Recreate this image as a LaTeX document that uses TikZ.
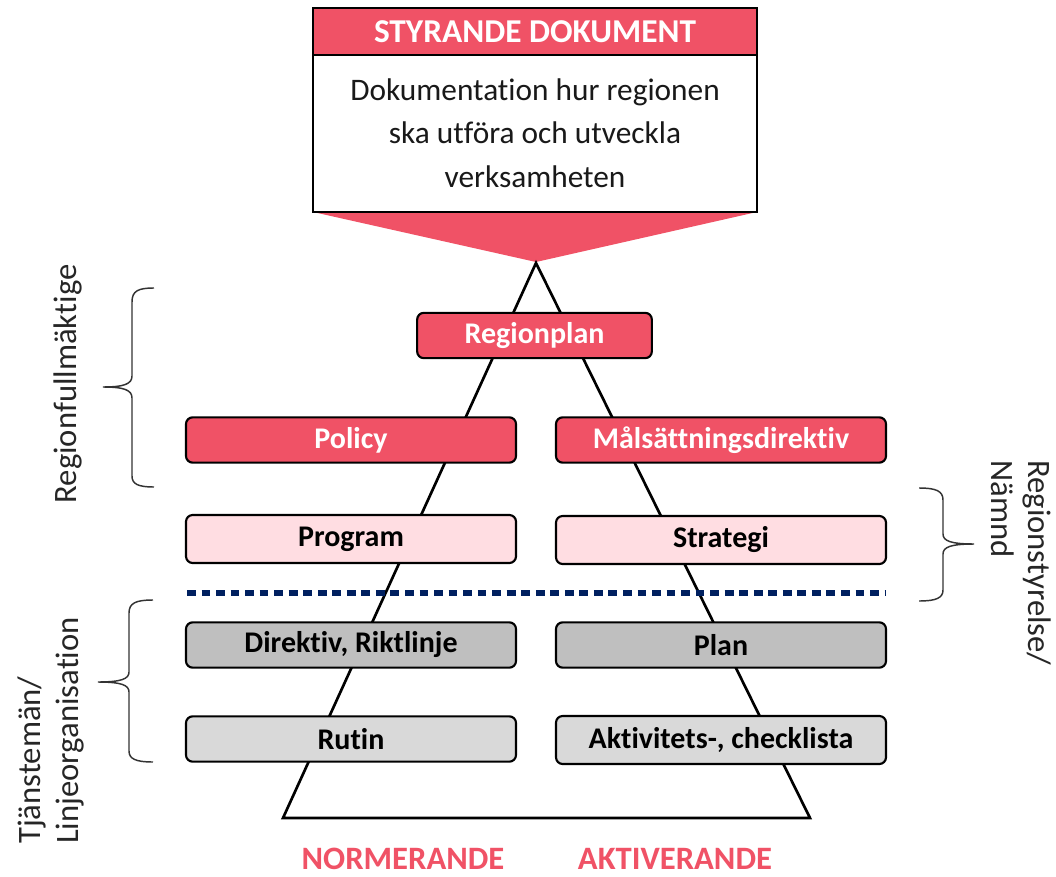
\documentclass[tikz,border=0pt]{standalone}
\usepackage{fontspec}
\setmainfont{Carlito}[Ligatures={NoCommon}]
\definecolor{rd}{RGB}{240,82,102}
\definecolor{pinkbg}{RGB}{255,221,226}
\definecolor{graybg}{RGB}{191,191,191}
\definecolor{lgraybg}{RGB}{217,217,217}
\definecolor{navy}{RGB}{0,32,96}
\begin{document}
\begin{tikzpicture}[x=0.75pt,y=-0.75pt,
  box/.style={draw=black, line width=1.6pt, rounded corners=5pt, minimum width=247.5pt,
    minimum height=34pt, inner sep=0pt, font=\fontsize{22.5}{27}\selectfont\bfseries},
  redbox/.style={box, fill=rd, text=white},
  pinkbox/.style={box, fill=pinkbg, text=black},
  graybox/.style={box, fill=graybg, text=black},
  lgraybox/.style={box, fill=lgraybg, text=black},
  sidelbl/.style={font=\fontsize{24.5}{28}\selectfont, inner sep=0pt, align=left, text=black!85},
  bottomlbl/.style={font=\fontsize{24.5}{28}\selectfont\bfseries, text=rd, inner sep=0pt},
  bracestyle/.style={draw=black!80, line width=1.1pt}
]
\useasboundingbox (0,0) rectangle (1056,877);

% callout
\fill[rd] (313,212) -- (757,212) -- (536,262) -- cycle;
\fill[white] (313,55) rectangle (757,212);
\fill[rd] (313,8) rectangle (757,55);
\draw[line width=1.6pt] (313,8) rectangle (757,212);
\draw[line width=1.2pt] (313,55) -- (757,55);
\node[font=\fontsize{25}{30}\selectfont\bfseries, text=white] (hdr) at (535,32) {STYRANDE DOKUMENT};
\node[font=\fontsize{23.5}{32.5}\selectfont, align=center, text=black!90] (body) at (535,133)
  {Dokumentation hur regionen\\ska utföra och utveckla\\verksamheten};

% pyramid
\coordinate (apex) at (536,263);
\coordinate (bl) at (283,818);
\coordinate (br) at (810,818);
\draw[line width=2pt, line join=miter] (apex) -- (bl) -- (br) -- cycle;

% boxes
\node[redbox, minimum width=176pt] (regionplan) at (534.5,335.5) {Regionplan};
\node[redbox] (policy) at (351,440) {Policy};
\node[redbox] (malsatt) at (721,440) {Målsättningsdirektiv};
\node[pinkbox, minimum height=36pt] (program) at (351,539) {Program};
\node[pinkbox, minimum height=36pt] (strategi) at (721,540) {Strategi};
\node[graybox] (direktiv) at (351,645) {Direktiv, Riktlinje};
\node[graybox] (plan) at (721,645) {Plan};
\node[lgraybox] (rutin) at (351,739) {Rutin};
\node[lgraybox, minimum height=36pt] (aktiv) at (721,740) {Aktivitets-, checklista};

% dotted separator
\coordinate (dl) at (187,593);
\coordinate (dr) at (885,593);
\draw[navy, line width=5pt, dash pattern=on 6.6pt off 4.3pt] (dl) -- (dr);

% braces
\draw[bracestyle] (154,288) .. controls (138,288) and (132,291) .. (132,302) -- (132,376)
  .. controls (132,384) and (124,387) .. (103,387)
  .. controls (124,387) and (132,390) .. (132,398) -- (132,476)
  .. controls (132,484) and (138,487) .. (154,487);
\draw[bracestyle] (153,600) .. controls (136,600) and (129,603) .. (129,613) -- (129,672)
  .. controls (129,679) and (121,682) .. (98,682)
  .. controls (121,682) and (129,685) .. (129,692) -- (129,751)
  .. controls (129,759) and (136,762) .. (153,762);
\draw[bracestyle] (919,488) .. controls (936,488) and (943,491) .. (943,500) -- (943,534)
  .. controls (943,541) and (951,544) .. (974,544)
  .. controls (951,544) and (943,547) .. (943,554) -- (943,590)
  .. controls (943,598) and (936,601) .. (919,601);

% side labels
\node[sidelbl, rotate=90] (rfm) at (68,384) {Regionfullmäktige};
\node[sidelbl, rotate=90, anchor=west] (tj) at (51,844) {Tjänstemän/\\Linjeorganisation};
\node[sidelbl, rotate=-90, anchor=west] (rs) at (1021,460) {Regionstyrelse/\\Nämnd};

% bottom labels
\node[bottomlbl] (norm) at (403,859) {NORMERANDE};
\node[bottomlbl] (aktlbl) at (675,859) {AKTIVERANDE};
\end{tikzpicture}
\end{document}
